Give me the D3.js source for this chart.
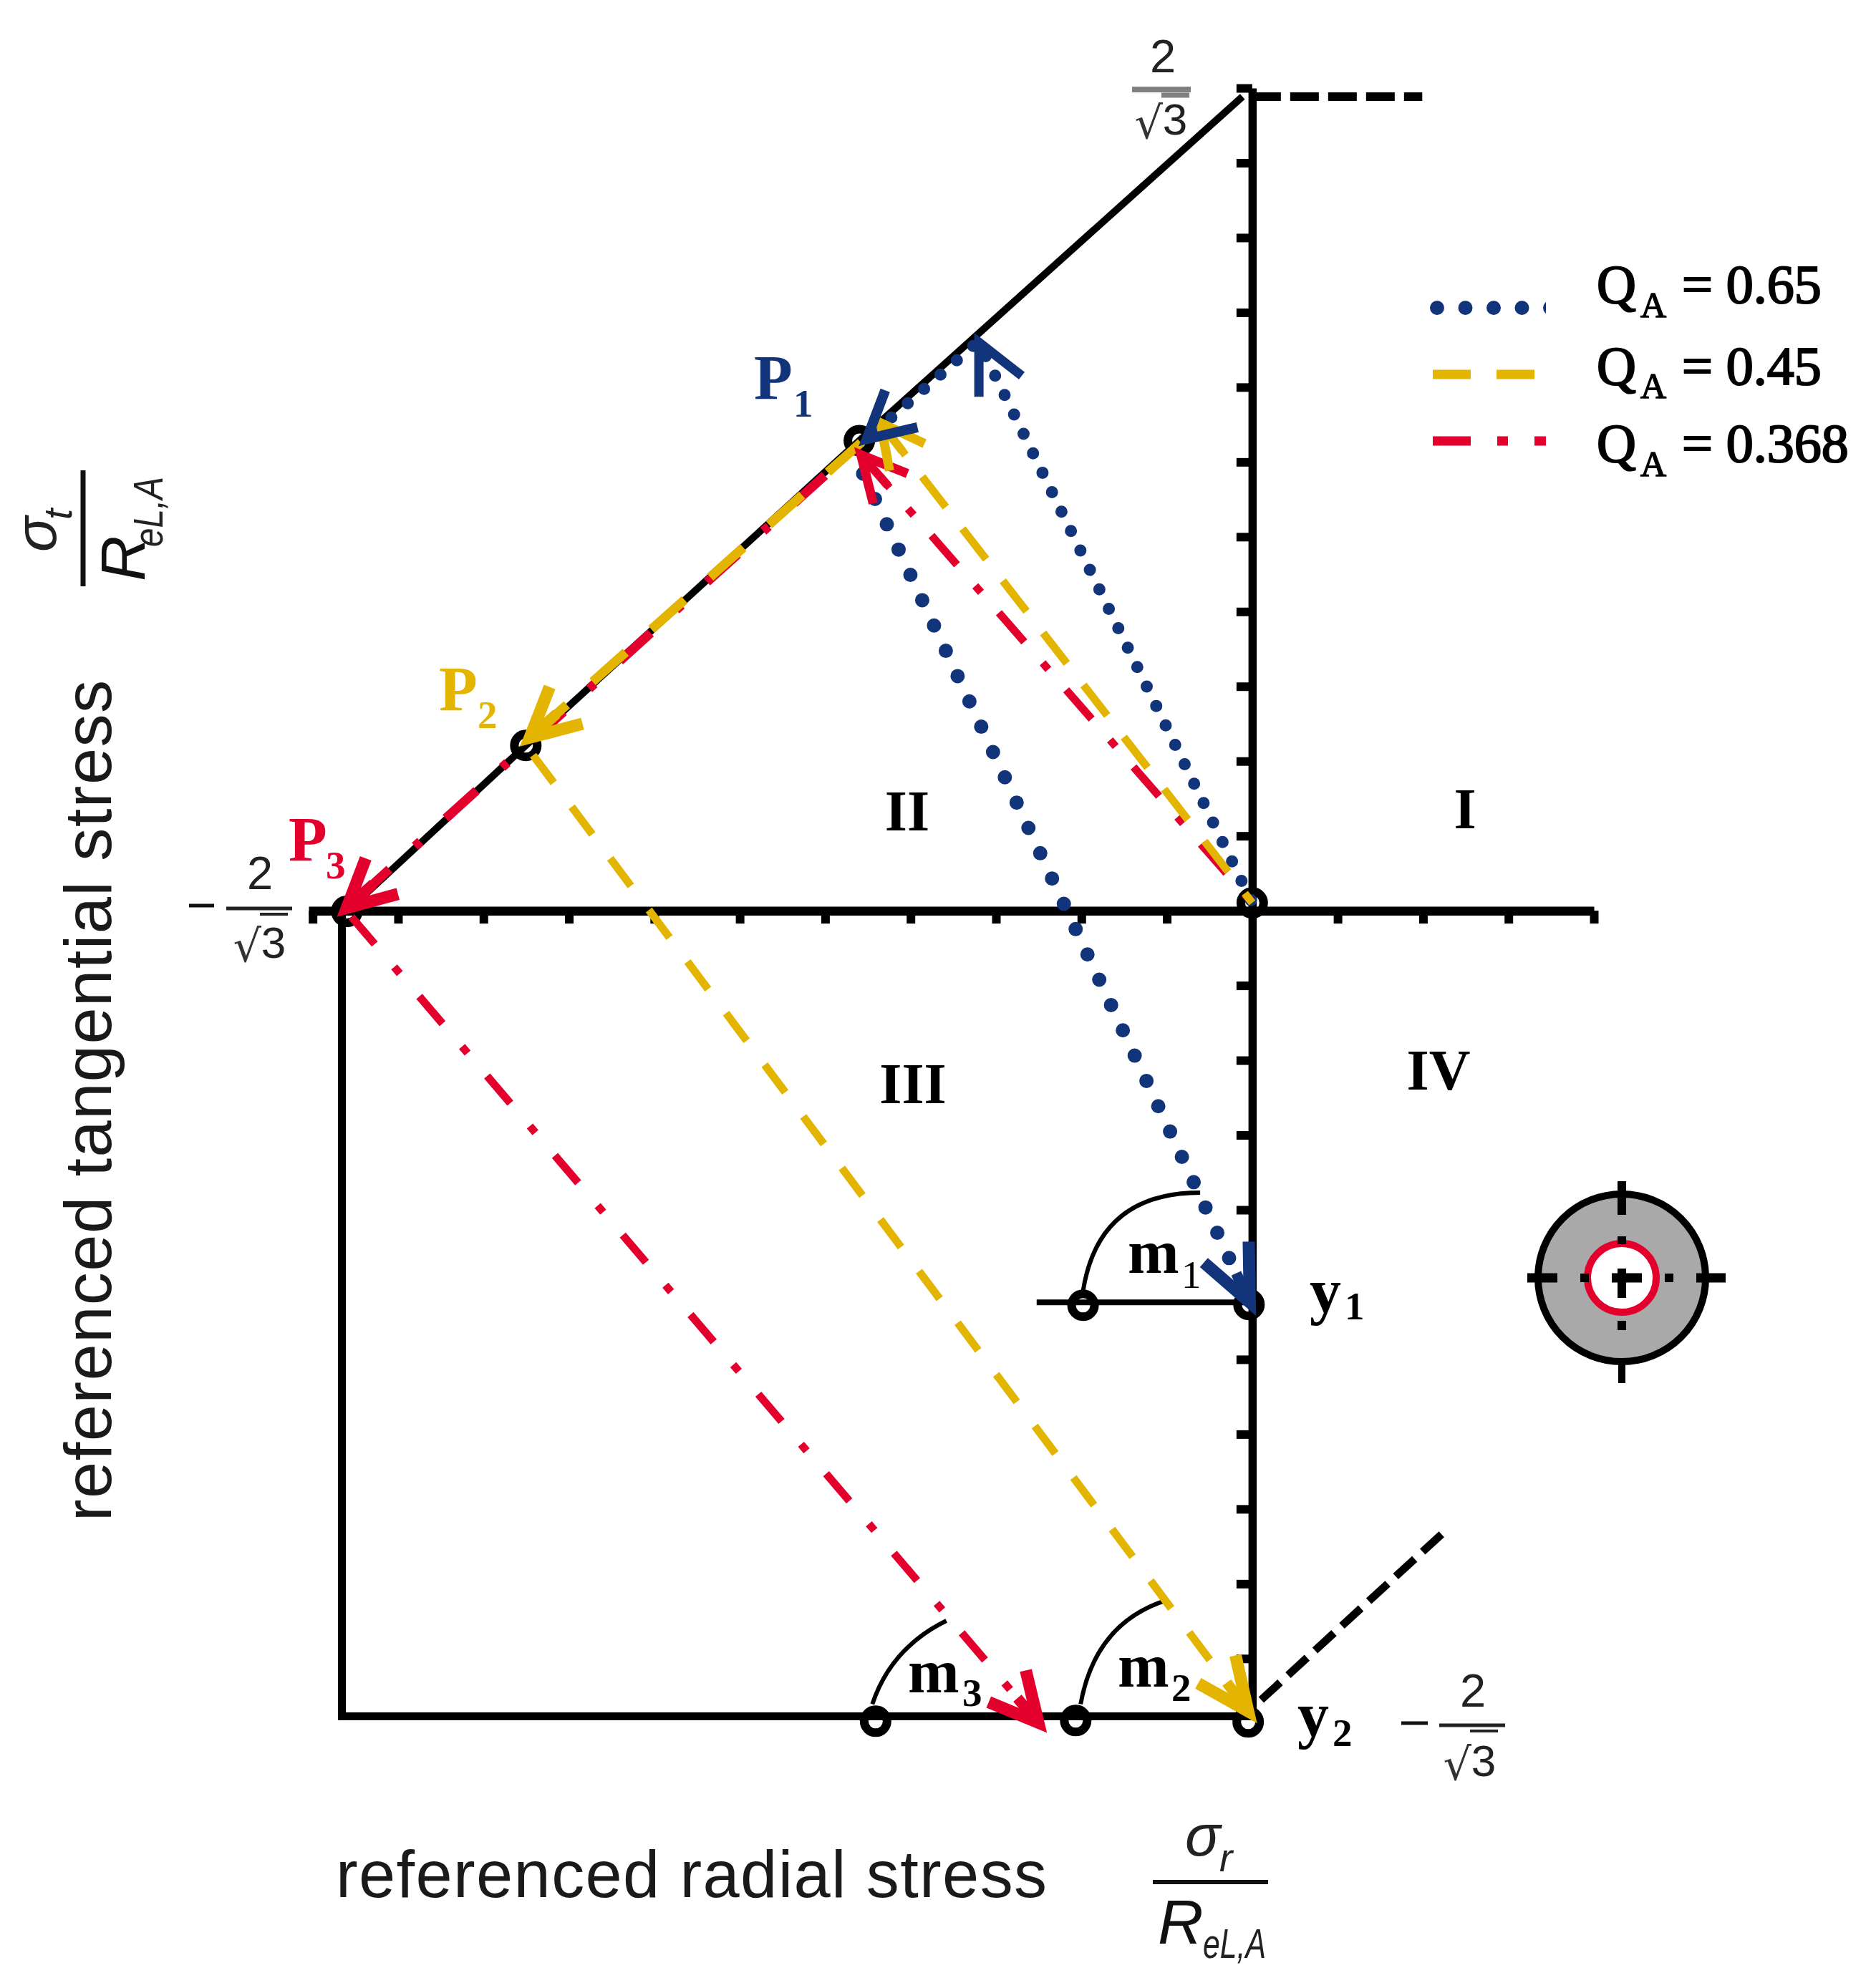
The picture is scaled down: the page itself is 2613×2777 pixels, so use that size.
<!DOCTYPE html>
<html><head><meta charset="utf-8">
<style>html,body{margin:0;padding:0;background:#fff}svg{display:block}</style>
<script src="https://cdn.jsdelivr.net/npm/d3@7/dist/d3.min.js"></script>
</head><body><svg id="c" width="2613" height="2777"></svg>
<script>
// ---------- data (referenced stress units: sigma_r/ReLA, sigma_t/ReLA) ----------
const tickValuesX = [-1.155,-1.05,-0.945,-0.84,-0.735,-0.63,-0.525,-0.42,-0.315,-0.21,-0.105,0.105,0.21,0.315,0.42];
const tickValuesY = [1.155,1.05,0.945,0.84,0.735,0.63,0.525,0.42,0.315,0.21,0.105,-0.105,-0.21,-0.315,-0.42,-0.525,-0.63,-0.735,-0.84,-0.945,-1.05];
const O  = [0, 0.011];
const A  = [-0.336, 0.798];
const P1 = [-0.483, 0.660];
const P2 = [-0.893, 0.232];
const P3 = [-1.113, -0.001];
const Y1 = [-0.004, -0.553];
const Y2 = [-0.005, -1.139];
const M1 = [-0.208, -0.554];
const M2 = [-0.217, -1.137];
const M3 = [-0.463, -1.138];
const envelope = [[-0.012, 1.143], P1, P2, P3];
const wall = [[-1.119, 0], [-1.119, -1.131], [0, -1.131]];
const y1Line = [[-0.265, -0.550], [0, -0.550]];
const dashTop = [[0, 1.143], [0.209, 1.143]];
const dashBottom = [[0.011, -1.108], [0.238, -0.870]];
const arcM1 = [[-0.208, -0.534], [-0.189, -0.396], [-0.064, -0.396]];
const arcM2 = [[-0.211, -1.114], [-0.193, -1.0], [-0.105, -0.968]];
const arcM3 = [[-0.467, -1.114], [-0.444, -1.035], [-0.376, -0.997]];
const seriesValues = ["0.65", "0.45", "0.368"];
const blueUp   = [O, A];
const blueDiag = [[-0.343, 0.793], [-0.474, 0.662]];
const blueDown = [[-0.487, 0.635], [-0.003, -0.550]];
const yellowUp   = [O, [-0.457, 0.685]];
const yellowDiag = [[-0.481, 0.657], [-0.888, 0.243]];
const yellowDown = [P2, [-0.005, -1.124]];
const redUp   = [O, [-0.481, 0.640]];
const redDiag = [[-0.481, 0.657], [-1.113, 0.004]];
const redDown = [P3, [-0.263, -1.140]];
const regionNames = ["I", "II", "III", "IV"];

// ---------- styling / layout ----------
const BLUE="#12347a", YEL="#e3b400", RED="#e4002c", BK="#000";
const SERIF="'Liberation Serif'", SANS="'Liberation Sans'";

const x = d3.scaleLinear().domain([-1.16, 0.42]).range([431, 2226]);
const y = d3.scaleLinear().domain([-1.127, 1.155]).range([2393.4, 123]);
const line = d3.line().x(d=>x(d[0])).y(d=>y(d[1]));
const svg = d3.select("#c");
const g = svg.append("g");

function path(pts, color, w, dash, cap, off){
  return g.append("path").attr("d", line(pts)).attr("fill","none").attr("stroke",color)
    .attr("stroke-width",w).attr("stroke-dasharray",dash||null).attr("stroke-dashoffset",off||0).attr("stroke-linecap",cap||"butt");
}
function arrow(from, to, color, len, half, shaft, w){
  const x0=x(from[0]),y0=y(from[1]),x1=x(to[0]),y1=y(to[1]);
  const a=Math.atan2(y0-y1,x0-x1), r=half*Math.PI/180;
  const a1=[x1+len*Math.cos(a+r),y1+len*Math.sin(a+r)], a2=[x1+len*Math.cos(a-r),y1+len*Math.sin(a-r)];
  if(shaft) g.append("line").attr("x1",x1).attr("y1",y1).attr("x2",x1+shaft*Math.cos(a)).attr("y2",y1+shaft*Math.sin(a))
    .attr("stroke",color).attr("stroke-width",w>14?15:12);
  g.append("path").attr("d",`M${a1}L${[x1,y1]}L${a2}`).attr("fill","none").attr("stroke",color)
    .attr("stroke-width",w).attr("stroke-linejoin","miter").attr("stroke-miterlimit",6);
}
function txt(s, px, py, o={}){
  const t=g.append("text").attr("x",px).attr("y",py).text(s)
    .attr("font-family",o.f||SERIF).attr("font-size",o.s||80).attr("font-weight",o.w||"normal")
    .attr("font-style",o.i?"italic":"normal").attr("fill",o.c||"#000").attr("text-anchor",o.a||"start")
    .attr("transform",o.rot?`rotate(-90 ${px} ${py})`:null);
  if(o.sw) t.attr("stroke",o.c||"#000").attr("stroke-width",o.sw);
  return t;
}
// ---------- axes ----------
const axisY = d3.axisLeft(y).tickValues(tickValuesY).tickSize(22).tickSizeOuter(0).tickFormat("");
const axisX = d3.axisBottom(x).tickValues(tickValuesX).tickSize(18).tickSizeOuter(0).tickFormat("");
const gy = g.append("g").attr("transform",`translate(${x(0)},0)`).call(axisY);
const gx = g.append("g").attr("transform",`translate(0,${y(0)})`).call(axisX);
gy.select(".domain").attr("stroke",BK).attr("stroke-width",11.5);
gy.selectAll(".tick line").attr("stroke",BK).attr("stroke-width",12);
gx.select(".domain").attr("stroke",BK).attr("stroke-width",12.5);
gx.selectAll(".tick line").attr("stroke",BK).attr("stroke-width",12);

path(envelope, BK, 10);
path(wall, BK, 11);
path(y1Line, BK, 8);
path(dashTop, BK, 12, "40 13");
path(dashBottom, BK, 11, "36 15");

// arcs
[arcM1,arcM2,arcM3].forEach(a=>{
  const p=d3.path(); p.moveTo(x(a[0][0]),y(a[0][1]));
  p.quadraticCurveTo(x(a[1][0]),y(a[1][1]),x(a[2][0]),y(a[2][1]));
  g.append("path").attr("d",p.toString()).attr("fill","none").attr("stroke",BK).attr("stroke-width",6);
});
// nodes
g.selectAll("circle.n").data([O,P1,P2,P3,Y1,Y2,M1,M2,M3]).join("circle").attr("class","n")
  .attr("cx",d=>x(d[0])).attr("cy",d=>y(d[1])).attr("r",16).attr("fill","none").attr("stroke",BK).attr("stroke-width",12);

// series
path(blueUp,BLUE,17,"0 30.2","round",26.2);
path(blueDiag,BLUE,17,"0 30.4","round");
path(blueDown,BLUE,20,"0 39","round",15.5);
path(redUp,RED,11,"54 38 12 39",null,88);
path(redDiag,RED,13,"58 48 10 48",null,96);
path(redDown,RED,11,"50 42 12 42",null,136);
path(yellowUp,YEL,11,"54 38",null,37);
path(yellowDiag,YEL,13,"62 48");
path(yellowDown,YEL,11,"48 42",null,73);
// arrow heads
arrow(O,redUp[1],RED,70,27,57,13);
arrow(redDiag[0],redDiag[1],RED,74,27,50,17);
arrow(P3,redDown[1],RED,75,27,45,17);
arrow(O,yellowUp[1],YEL,68,27,50,13);
arrow(yellowDiag[0],yellowDiag[1],YEL,76,27,50,17);
arrow(P2,yellowDown[1],YEL,80,24,50,17);
arrow(O,A,BLUE,76,26,0,13);
arrow(blueDiag[0],blueDiag[1],BLUE,73,28,0,14);
arrow(blueDown[0],blueDown[1],BLUE,85,24,45,17);

// point labels
txt("P",1053,557,{s:88,w:"bold",c:BLUE}); txt("1",1108,582,{s:55,w:"bold",c:BLUE});
txt("P",613,992,{s:88,w:"bold",c:YEL});  txt("2",667,1017,{s:55,w:"bold",c:YEL});
txt("P",403,1202,{s:88,w:"bold",c:RED}); txt("3",455,1227,{s:55,w:"bold",c:RED});
// regions
txt(regionNames[0],2046,1157,{s:80,w:"bold",a:"middle"});
txt(regionNames[1],1267,1160,{s:80,w:"bold",a:"middle"});
txt(regionNames[2],1275,1541,{s:80,w:"bold",a:"middle"});
txt(regionNames[3],2009,1522,{s:80,w:"bold",a:"middle"});
// m / y labels
txt("m",1575,1778,{s:86,w:"bold"}); txt("1",1650,1799,{s:55});
txt("m",1561,2356,{s:86,w:"bold"}); txt("2",1636,2376,{s:55,w:"bold"});
txt("m",1268,2364,{s:86,w:"bold"}); txt("3",1344,2383,{s:55,w:"bold"});
txt("y",1829,1833,{s:88,w:"bold"}); txt("1",1878,1843,{s:55,w:"bold"});
txt("y",1812,2425,{s:88,w:"bold"}); txt("2",1861,2439,{s:55,w:"bold"});

// fractions 2/sqrt3
function frac(cx2, base2, barX0, barX1, barY, base3, x3, neg, barCol, barW){
  txt("2",cx2,base2,{f:SANS,s:65,a:"middle",c:"#222"});
  g.append("line").attr("x1",barX0).attr("x2",barX1).attr("y1",barY).attr("y2",barY).attr("stroke",barCol).attr("stroke-width",barW);
  txt("3",x3,base3,{f:SANS,s:62,a:"middle",c:"#222"});
  txt("\u221A",x3-17,base3+5,{f:"'DejaVu Sans'",s:62,a:"end",c:"#333"});
  g.append("line").attr("x1",x3-19).attr("x2",x3+20).attr("y1",barY+8).attr("y2",barY+8).attr("stroke",barCol).attr("stroke-width",barW-1);
  if(neg) g.append("line").attr("x1",neg[0]).attr("x2",neg[1]).attr("y1",neg[2]).attr("y2",neg[2]).attr("stroke","#111").attr("stroke-width",5);
}
frac(1624,101,1581,1663,125,188,1641,null,"#808080",8);
frac(363,1242,316,408,1269,1338,382,[264,299,1265],"#222",5);
frac(2057,2384,2010,2102,2410,2481,2072,[1957,1994,2407],"#222",5);

// axis titles
txt("referenced radial stress",469,2650,{f:SANS,s:92,c:"#1a1a1a"}).attr("textLength",993);
txt("referenced tangential stress",155,2125,{f:SANS,s:92,c:"#1a1a1a",rot:true}).attr("textLength",1175);

// x fraction
g.append("line").attr("x1",1610).attr("x2",1771).attr("y1",2629).attr("y2",2629).attr("stroke","#111").attr("stroke-width",6);
txt("\u03C3",1655,2592,{f:SANS,s:82,i:true,c:"#222"});
txt("r",1703,2614,{f:SANS,s:55,i:true,c:"#222"});
txt("R",1617,2715,{f:SANS,s:88,i:true,c:"#111"});
txt("eL,A",1680,2735,{f:SANS,s:58,i:true,c:"#222"}).attr("textLength",88).attr("lengthAdjust","spacingAndGlyphs");
// y fraction
g.append("line").attr("x1",116).attr("x2",116).attr("y1",657).attr("y2",819).attr("stroke","#111").attr("stroke-width",7);
txt("\u03C3",78,771,{f:SANS,s:82,i:true,c:"#222",rot:true});
txt("t",100,726,{f:SANS,s:55,i:true,c:"#222",rot:true});
txt("R",202,812,{f:SANS,s:88,i:true,c:"#111",rot:true});
txt("eL,A",227,764,{f:SANS,s:58,i:true,c:"#222",rot:true}).attr("textLength",98).attr("lengthAdjust","spacingAndGlyphs");

// legend
svg.append("defs").append("clipPath").attr("id","legendClip").append("rect").attr("x",1980).attr("y",400).attr("width",179).attr("height",240);
const legend = g.append("g");
const legendRows=[
 {name:seriesValues[0],c:BLUE,w:20,dash:"0 39.5",cap:"round",ly:430,x0:2007,x1:2175,base:423,sub:443},
 {name:seriesValues[1],c:YEL,w:13,dash:"53 36",cap:"butt",ly:523,x0:2001,x1:2143,base:537,sub:556},
 {name:seriesValues[2],c:RED,w:13,dash:"53 37 15 37",cap:"butt",ly:616,x0:2001,x1:2159,base:645,sub:665}];
legendRows.forEach(r=>{
  legend.append("line").attr("x1",r.x0).attr("x2",r.x1).attr("y1",r.ly).attr("y2",r.ly)
    .attr("clip-path","url(#legendClip)")
    .attr("stroke",r.c).attr("stroke-width",r.w).attr("stroke-dasharray",r.dash).attr("stroke-linecap",r.cap);
  txt("Q",2230,r.base,{s:76,sw:2.2});
  txt("A",2291,r.sub,{s:50,sw:1.4});
  txt("= "+r.name,2349,r.base,{s:76,sw:2.2});
});

// cross-section icon
const ic=g.append("g").attr("transform","translate(2265,1785)");
ic.append("circle").attr("r",117).attr("fill","#a9a9a9").attr("stroke",BK).attr("stroke-width",10);
ic.append("circle").attr("r",48).attr("fill","#fff").attr("stroke",RED).attr("stroke-width",10);
const iconTicks=[[0,-135,0,-88,12],[0,112,0,147,10],[-132,0,-90,0,13],[104,0,145,0,13],
  [0,-58,0,-47,12],[0,60,0,73,12],[-58,0,-46,0,12],[60,0,72,0,12],[-14,0,28,0,13],[0,-13,0,28,12]];
iconTicks.forEach(t=>ic.append("line").attr("x1",t[0]).attr("y1",t[1]).attr("x2",t[2]).attr("y2",t[3]).attr("stroke",BK).attr("stroke-width",t[4]));
</script></body></html>
